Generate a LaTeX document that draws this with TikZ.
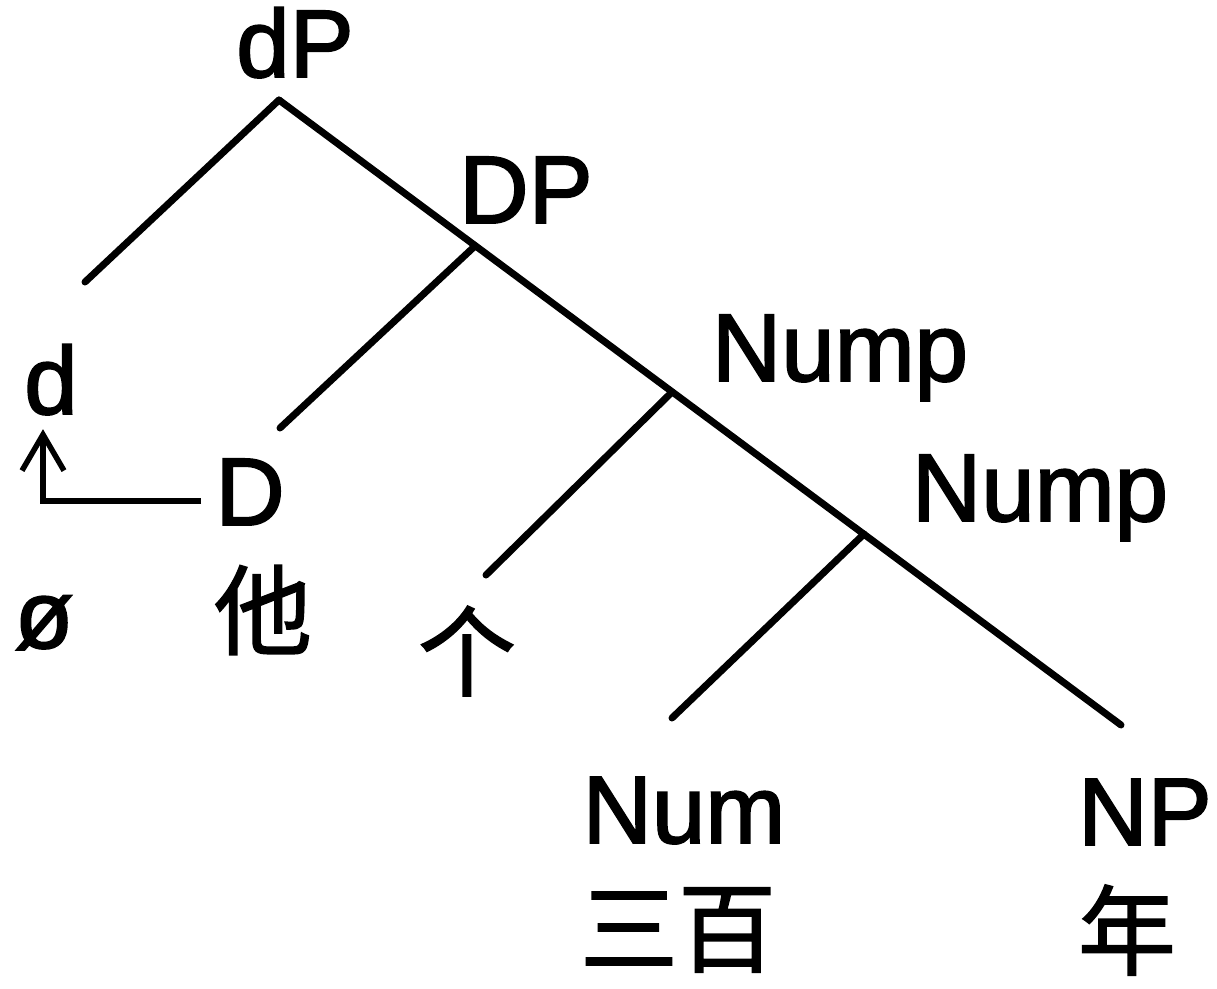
\documentclass[tikz,border=0pt]{standalone}
\usepackage{fontspec}
\setmainfont{Liberation Sans}[FakeBold=2]
\newfontfamily\cjk{Noto Sans CJK SC}[FakeBold=1.5]
\usetikzlibrary{arrows.meta}

\begin{document}
\begin{tikzpicture}[
  x=1pt,y=-1pt,
  branch/.style={line width=7pt,line cap=round},
  cat/.style={inner sep=0pt,anchor=base,font=\fontsize{96}{100}\selectfont},
  word/.style={inner sep=0pt,anchor=center,font=\cjk\fontsize{98}{100}\selectfont},
  movearrow/.style={line width=5.5pt,-{Straight Barb[length=36pt,width=42pt,line width=5.5pt]}}
]
\useasboundingbox (0,0) rectangle (1217,988);

% -------------------------------------------------------------------------
% category labels
% -------------------------------------------------------------------------
\node[cat] (dP) at (295,77) {dP};
\node[cat] (DP) at (526,223) {DP};
\node[cat] (nump1) at (840,381) {Nump};
\node[cat] (nump2) at (1040,521) {Nump};
\node[cat] (dhead) at (51,414) {d};
\node[cat] (Dhead) at (250,525) {D};
\node[cat] (num) at (684,843) {Num};
\node[cat] (NP) at (1145,845) {NP};

% words
\node[cat] (empty) at (44,648) {ø};
\node[word] (ta) at (263,610) {他};
\node[word] (ge) at (467,651) {个};
\node[word] (sanbai) at (678,930) {三百};
\node[word] (nian) at (1127,930) {年};

% -------------------------------------------------------------------------
% branches
% -------------------------------------------------------------------------
\coordinate (dPtop) at (279,100);
\coordinate (dleft) at (85,282);
\coordinate (DPtop) at (475,246);
\coordinate (Dleft) at (280,428);
\coordinate (nump1top) at (672,392);
\coordinate (geleft) at (486,575);
\coordinate (nump2top) at (864,534);
\coordinate (numleft) at (672,718);
\coordinate (NPend) at (1121,725);

\draw[branch] (dPtop) -- (NPend);
\foreach \a/\b in {dPtop/dleft,DPtop/Dleft,nump1top/geleft,nump2top/numleft}
  {\draw[branch] (\a) -- (\b);}

% head movement D to d
\draw[movearrow] ([xshift=-14pt,yshift=24pt]Dhead.base west) -| ([xshift=-8pt,yshift=-14pt]dhead.south);
\end{tikzpicture}
\end{document}
